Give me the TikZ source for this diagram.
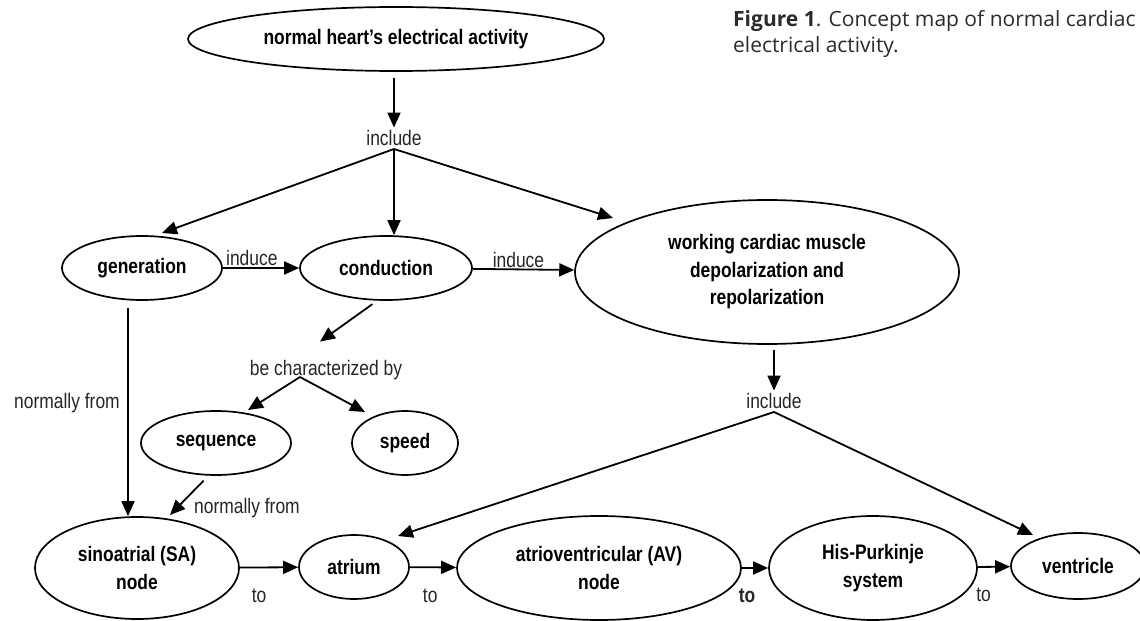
\documentclass[tikz,border=0pt]{standalone}
\usepackage{fontspec}
\setmainfont{Liberation Sans}[FakeStretch=0.83]
\newfontfamily\capfont{Open Sans}
\usetikzlibrary{arrows.meta,shapes.geometric}
\definecolor{capgray}{HTML}{2B2B2B}
\definecolor{lblgray}{HTML}{262626}
\begin{document}
\begin{tikzpicture}[x=1bp,y=-1bp,
  ell/.style={draw, ellipse, line width=1.7bp, inner sep=0pt, align=center,
    font=\bfseries\fontsize{21bp}{27.5bp}\selectfont},
  lbl/.style={inner sep=0pt, text=lblgray, font=\fontsize{21bp}{24bp}\selectfont},
  arr/.style={line width=1.8bp, -{Triangle[length=15bp,width=13bp]}},
  capstyle/.style={inner sep=0pt, anchor=base west, text=capgray,
    font=\capfont\fontsize{21bp}{26bp}\selectfont}]
\useasboundingbox (0,0) rectangle (1140,621);
\fill[white] (0,0) rectangle (1140,621);

% caption
\node[capstyle] (cap1) at (733,27) {\textbf{Figure 1}. Concept map of normal cardiac};
\node[capstyle] (cap2) at (733,53) {electrical activity.};

% concept nodes
\node[ell, minimum width=416bp, minimum height=64bp] (top) at (396,39) {normal heart’s electrical activity};
\node[ell, minimum width=160bp, minimum height=64bp] (gen) at (142,268) {generation};
\node[ell, minimum width=172bp, minimum height=64bp] (con) at (386,268) {conduction};
\node[ell, minimum width=384bp, minimum height=144bp] (work) at (767,272) {working cardiac muscle\\depolarization and\\repolarization};
\node[ell, minimum width=150bp, minimum height=64bp] (seq) at (216,443) {sequence};
\node[ell, minimum width=106bp, minimum height=64bp] (spd) at (405,443) {speed};
\node[ell, minimum width=204bp, minimum height=102bp] (sa) at (137,568) {sinoatrial (SA)\\node};
\node[ell, minimum width=110bp, minimum height=64bp] (atr) at (354,567) {atrium};
\node[ell, minimum width=284bp, minimum height=104bp] (av) at (599,568) {atrioventricular (AV)\\node};
\node[ell, minimum width=208bp, minimum height=104bp] (his) at (873,568) {His-Purkinje\\system};
\node[ell, minimum width=134bp, minimum height=66bp] (ven) at (1078,566) {ventricle};

% linking phrases
\node[lbl, anchor=base] (inc1) at (394,146) {include};
\node[lbl, anchor=base] (inc2) at (774,408) {include};
\node[lbl, anchor=base] (bcb) at (326,375) {be characterized by};
\node[lbl] (nf1) at (67,403) {normally from};
\node[lbl] (nf2) at (247,508) {normally from};

% connectors
\draw[arr, shorten <=6bp, shorten >=3bp] (top.south -| inc1.base) -- (inc1.north);
\draw[arr] ([yshift=-3bp]inc1.base) -- ([shift={(20bp,35bp)}]gen.center);
\draw[arr] ([yshift=-3bp]inc1.base) -- (con.north -| inc1.base);
\draw[arr] ([yshift=-3bp]inc1.base) -- ([shift={(-154bp,54bp)}]work.center);

\draw[arr] (gen) -- node[lbl, anchor=base, pos=0.38, yshift=2bp] {induce} (con);
\draw[arr] (con) -- node[lbl, anchor=base, pos=0.45, yshift=2bp] {induce} (work);

\draw[arr, shorten <=6bp] (con.255) -- ([shift={(-6bp,18bp)}]bcb.north);
\draw[arr] ([shift={(-26bp,-2bp)}]bcb.base) -- ([shift={(32bp,33bp)}]seq.center);
\draw[arr] ([shift={(-26bp,-2bp)}]bcb.base) -- ([shift={(-40bp,31bp)}]spd.center);

\draw[arr, shorten <=7bp] ([xshift=-14bp]gen.south) -- ([xshift=-14bp]gen.south |- sa.north);
\draw[arr, shorten <=7bp] (seq.257) -- ([shift={(33bp,53bp)}]sa.center);

\draw[arr, shorten <=5bp] (work.south -| inc2.base) -- ([yshift=2bp]inc2.north);
\draw[arr] ([yshift=-4bp]inc2.base) -- ([shift={(44bp,31bp)}]atr.center);
\draw[arr] ([yshift=-4bp]inc2.base) -- ([shift={(-45bp,31bp)}]ven.center);

\draw[arr] (sa) -- node[lbl, pos=0.33, yshift=-28bp] {to} (atr);
\draw[arr] (atr) -- node[lbl, pos=0.44, yshift=-28bp] {to} (av);
\draw[arr] (av) -- node[lbl, pos=0.2, yshift=-28bp, font=\bfseries\fontsize{21bp}{24bp}\selectfont] {to} (his);
\draw[arr] (his) -- node[lbl, pos=0.18, yshift=-28bp] {to} (ven);
\end{tikzpicture}
\end{document}
